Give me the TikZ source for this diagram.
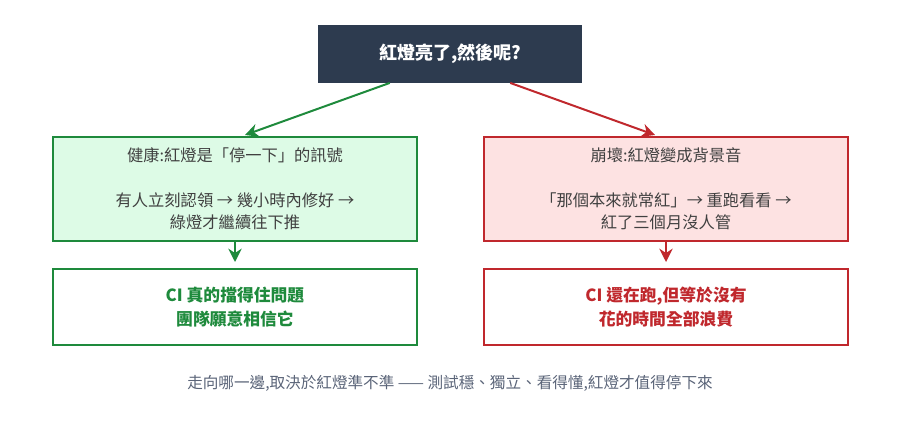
\documentclass[tikz,border=0pt]{standalone}
\usepackage{fontspec}
\setmainfont{Noto Sans CJK TC}
\usetikzlibrary{arrows.meta,positioning}
\definecolor{topFill}{HTML}{2D3B4F}
\definecolor{okLine}{HTML}{1E8A3C}
\definecolor{okFill}{HTML}{DDFBE6}
\definecolor{badLine}{HTML}{C0282D}
\definecolor{badFill}{HTML}{FDE2E2}
\definecolor{noteGray}{HTML}{5A6478}
\tikzset{
  box/.style={draw, line width=1.2pt, minimum width=273pt, minimum height=78pt, align=center, font=\fontsize{12.2}{16.5}\selectfont, text=black!75},
  result/.style={draw, line width=1.2pt, fill=white, minimum width=273pt, minimum height=57pt, align=center, font=\fontsize{12.6}{18}\selectfont\bfseries},
  link/.style={line width=1.5pt, -{Stealth[length=10pt,width=10pt]}}
}
\begin{document}
\begin{tikzpicture}[x=0.75pt,y=-0.75pt]
  \useasboundingbox (0,0) rectangle (900,436);
  \node[fill=topFill, text=white, minimum width=198pt, minimum height=43pt, font=\fontsize{13.5}{14}\selectfont\bfseries] (question) at (450,54) {紅燈亮了,然後呢?};
  \node[box, draw=okLine, fill=okFill] (healthy) at (235,189) {健康:紅燈是「停一下」的訊號\\[17pt]有人立刻認領 → 幾小時內修好 →\\綠燈才繼續往下推};
  \node[box, draw=badLine, fill=badFill] (broken) at (666,189) {崩壞:紅燈變成背景音\\[17pt]「那個本來就常紅」→ 重跑看看 →\\紅了三個月沒人管};
  \node[result, draw=okLine, text=okLine] (trusted) at (235,307) {CI 真的擋得住問題\\團隊願意相信它};
  \node[result, draw=badLine, text=badLine] (wasted) at (666,307) {CI 還在跑,但等於沒有\\花的時間全部浪費};
  \node[text=noteGray, font=\fontsize{11.7}{12}\selectfont] (note) at (450,383) {走向哪一邊,取決於紅燈準不準 —— 測試穩、獨立、看得懂,紅燈才值得停下來};
  \draw[link, okLine] (question.south west) ++(72,0) coordinate (qa) -- (245,135);
  \draw[link, badLine] (question.south east) ++(-72,0) coordinate (qb) -- (655,135);
  \draw[link, okLine] (healthy) ++(0,53) -- ++(0,20);
  \draw[link, badLine] (broken) ++(0,53) -- ++(0,20);
\end{tikzpicture}
\end{document}
